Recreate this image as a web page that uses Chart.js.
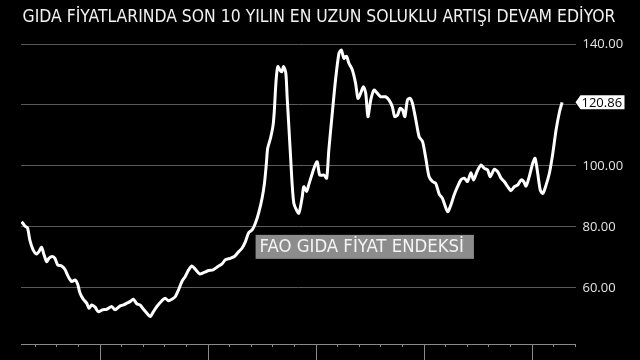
<!DOCTYPE html>
<html>
<head>
<meta charset="utf-8">
<script src="https://cdn.jsdelivr.net/npm/chart.js@4"></script>
<style>
  html, body { margin: 0; padding: 0; background: #000; }
  #wrap { width: 640px; height: 360px; }
</style>
</head>
<body>
<div id="wrap"><canvas id="foodChart"></canvas></div>
<script>
// FAO food price index (decimal year -> index)
const dates = [
  1996.39, 1996.54, 1996.66, 1996.77, 1996.92, 1997.08, 1997.19, 1997.31, 1997.43, 1997.55,
  1997.65, 1997.81, 1997.93, 1998.06, 1998.24, 1998.39, 1998.55, 1998.71, 1998.86, 1998.98,
  1999.09, 1999.24, 1999.40, 1999.51, 1999.63, 1999.79, 1999.94, 2000.13, 2000.33, 2000.56,
  2000.71, 2000.95, 2001.10, 2001.26, 2001.41, 2001.56, 2001.72, 2001.87, 2002.03, 2002.19,
  2002.34, 2002.49, 2002.65, 2002.88, 2003.03, 2003.19, 2003.35, 2003.50, 2003.65, 2003.81,
  2003.96, 2004.12, 2004.27, 2004.43, 2004.63, 2004.81, 2005.04, 2005.25, 2005.43, 2005.67,
  2005.82, 2006.05, 2006.24, 2006.44, 2006.59, 2006.75, 2006.90, 2007.06, 2007.21, 2007.36,
  2007.52, 2007.63, 2007.72, 2007.78, 2007.91, 2008.03, 2008.09, 2008.14, 2008.19, 2008.25,
  2008.34, 2008.43, 2008.52, 2008.62, 2008.68, 2008.76, 2008.84, 2008.91, 2008.99, 2009.11,
  2009.22, 2009.30, 2009.38, 2009.45, 2009.58, 2009.68, 2009.92, 2010.07, 2010.19, 2010.38,
  2010.51, 2010.61, 2010.77, 2010.92, 2011.08, 2011.19, 2011.31, 2011.43, 2011.54, 2011.70,
  2011.85, 2011.96, 2012.08, 2012.21, 2012.32, 2012.42, 2012.55, 2012.70, 2012.86, 2013.01,
  2013.24, 2013.40, 2013.55, 2013.66, 2013.79, 2013.91, 2014.02, 2014.13, 2014.25, 2014.37,
  2014.48, 2014.64, 2014.79, 2014.95, 2015.10, 2015.25, 2015.41, 2015.56, 2015.72, 2015.87,
  2016.11, 2016.26, 2016.41, 2016.57, 2016.72, 2016.88, 2017.03, 2017.19, 2017.31, 2017.47,
  2017.65, 2017.81, 2017.96, 2018.08, 2018.27, 2018.43, 2018.58, 2018.73, 2018.89, 2019.04,
  2019.20, 2019.36, 2019.51, 2019.63, 2019.74, 2019.89, 2020.05, 2020.16, 2020.28, 2020.40,
  2020.52, 2020.67, 2020.82, 2020.98, 2021.13, 2021.29, 2021.41
];
const values = [
  81.7, 80.3, 79.7, 75.7, 72.5, 71.1, 71.9, 73.3, 70.8, 68.6,
  69.7, 70.3, 69.7, 67.5, 67.2, 66.1, 63.7, 62.1, 62.6, 61.3,
  58.3, 56.3, 55.0, 53.3, 54.4, 53.7, 52.2, 52.8, 53.0, 53.9,
  52.8, 54.1, 54.4, 55.0, 55.5, 56.3, 54.8, 54.4, 53.0, 51.7,
  50.6, 52.2, 53.9, 55.8, 56.6, 55.8, 56.3, 57.1, 59.3, 62.1,
  63.7, 65.9, 67.2, 66.1, 64.6, 65.0, 65.7, 65.9, 66.8, 67.9,
  69.2, 69.7, 70.3, 71.9, 73.0, 75.2, 78.1, 79.0, 81.2, 84.5,
  89.4, 94.3, 100.9, 105.8, 109.1, 113.4, 118.4, 124.9, 129.8, 132.6,
  131.5, 130.9, 132.6, 130.4, 122.7, 112.9, 103.0, 94.3, 87.8, 85.6,
  84.5, 86.7, 89.9, 93.2, 91.6, 93.8, 99.2, 101.4, 97.0, 97.0,
  96.0, 105.2, 117.3, 128.2, 137.0, 138.0, 135.3, 136.0, 133.7, 131.5,
  127.1, 122.2, 123.8, 126.0, 123.8, 116.2, 121.6, 124.9, 123.8, 122.7,
  122.7, 121.6, 119.4, 116.2, 116.7, 118.9, 118.4, 116.2, 121.6, 122.2,
  120.6, 115.1, 109.6, 108.0, 102.5, 96.5, 94.9, 94.3, 90.8, 89.4,
  85.0, 87.2, 90.5, 93.2, 95.4, 96.0, 94.9, 97.8, 95.4, 98.1,
  100.3, 99.2, 98.7, 96.5, 98.9, 98.1, 96.0, 94.9, 93.2, 91.9,
  93.2, 93.8, 95.4, 94.9, 93.4, 96.5, 100.9, 102.5, 97.6, 92.1,
  91.0, 93.8, 97.6, 104.2, 111.8, 117.8, 120.86
];
const yTicks = [60, 80, 100, 120, 140];
const majorYears = [2000, 2005, 2010, 2015, 2020];
const minorYears = [1997, 1998, 1999, 2001, 2002, 2003, 2004, 2006, 2007, 2008, 2009,
  2011, 2012, 2013, 2014, 2016, 2017, 2018, 2019, 2021, 2022];
const titleText = 'GIDA FİYATLARINDA SON 10 YILIN EN UZUN SOLUKLU ARTIŞI DEVAM EDİYOR';
const seriesLabel = 'FAO GIDA FİYAT ENDEKSİ';

// headline across the top, centred on the whole picture
const titlePlugin = {
  id: 'titlePlugin',
  afterDraw(chart) {
    const { ctx, width } = chart;
    ctx.save();
    ctx.font = '17.4px "DejaVu Sans Condensed"';
    ctx.fillStyle = '#f2f2f2';
    ctx.textAlign = 'center';
    ctx.textBaseline = 'middle';
    ctx.fillText(titleText, width / 2 - 1, 17);
    ctx.restore();
  }
};

// x axis line with long ticks every 5 years, short ones each year
const xAxisPlugin = {
  id: 'xAxisPlugin',
  afterDraw(chart) {
    const { ctx, chartArea, scales } = chart;
    const y = chartArea.bottom;
    ctx.save();
    ctx.strokeStyle = '#8a8a8a';
    ctx.lineWidth = 1;
    ctx.beginPath();
    ctx.moveTo(chartArea.left, y + 0.5);
    ctx.lineTo(chartArea.right, y + 0.5);
    majorYears.forEach(yr => {
      const x = Math.round(scales.x.getPixelForValue(yr)) + 0.5;
      ctx.moveTo(x, y);
      ctx.lineTo(x, y + 18);
    });
    minorYears.forEach(yr => {
      const x = Math.round(scales.x.getPixelForValue(yr)) + 0.5;
      ctx.moveTo(x, y);
      ctx.lineTo(x, y + 3);
    });
    ctx.stroke();
    ctx.restore();
  }
};

// grey series label and the last value pointer on the right axis
const labelsPlugin = {
  id: 'labelsPlugin',
  afterDatasetsDraw(chart) {
    const { ctx, chartArea, scales } = chart;
    ctx.save();
    // series name box
    ctx.font = '18.4px "DejaVu Sans Condensed"';
    const tw = ctx.measureText(seriesLabel).width;
    const bx = scales.x.getPixelForValue(2007.22);
    const by = scales.y.getPixelForValue(77.4);
    ctx.fillStyle = '#8c8c8c';
    ctx.fillRect(bx, by, tw + 14, 24);
    ctx.fillStyle = '#f4f4f4';
    ctx.textBaseline = 'middle';
    ctx.fillText(seriesLabel, bx + 4, by + 12.5);

    // last value tag
    const last = values[values.length - 1];
    const ly = scales.y.getPixelForValue(last);
    const tip = chartArea.right;
    ctx.fillStyle = '#ffffff';
    ctx.beginPath();
    ctx.moveTo(tip, ly);
    ctx.lineTo(tip + 5, ly - 7);
    ctx.lineTo(tip + 49, ly - 7);
    ctx.lineTo(tip + 49, ly + 7);
    ctx.lineTo(tip + 5, ly + 7);
    ctx.closePath();
    ctx.fill();
    ctx.fillStyle = '#000000';
    ctx.font = '13px "Open Sans"';
    ctx.fillText(last.toFixed(2), tip + 6, ly + 1);
    ctx.restore();
  }
};

new Chart(document.getElementById('foodChart'), {
  type: 'line',
  data: {
    datasets: [{
      label: seriesLabel,
      data: dates.map((d, i) => ({ x: d, y: values[i] })),
      borderColor: '#ffffff',
      borderWidth: 3,
      pointRadius: 0,
      tension: 0.25
    }]
  },
  options: {
    responsive: true,
    maintainAspectRatio: false,
    animation: false,
    layout: { padding: { left: 21, right: 0, top: 30, bottom: 16 } },
    plugins: {
      legend: { display: false },
      tooltip: { enabled: false },
      title: { display: false }
    },
    scales: {
      x: {
        type: 'linear',
        min: 1996.36,
        max: 2022.03,
        display: false
      },
      y: {
        position: 'right',
        min: 41.6,
        max: 144.6,
        afterFit: s => { s.width = 64.5; },
        afterBuildTicks: s => { s.ticks = yTicks.map(v => ({ value: v })); },
        border: { display: false },
        grid: { color: '#5a5a5a', lineWidth: 1, drawTicks: false },
        ticks: {
          color: '#e4e4e4',
          padding: 7,
          font: { family: 'Open Sans', size: 13 },
          callback: v => v.toFixed(2)
        }
      }
    }
  },
  plugins: [titlePlugin, xAxisPlugin, labelsPlugin]
});
</script>
</body>
</html>
